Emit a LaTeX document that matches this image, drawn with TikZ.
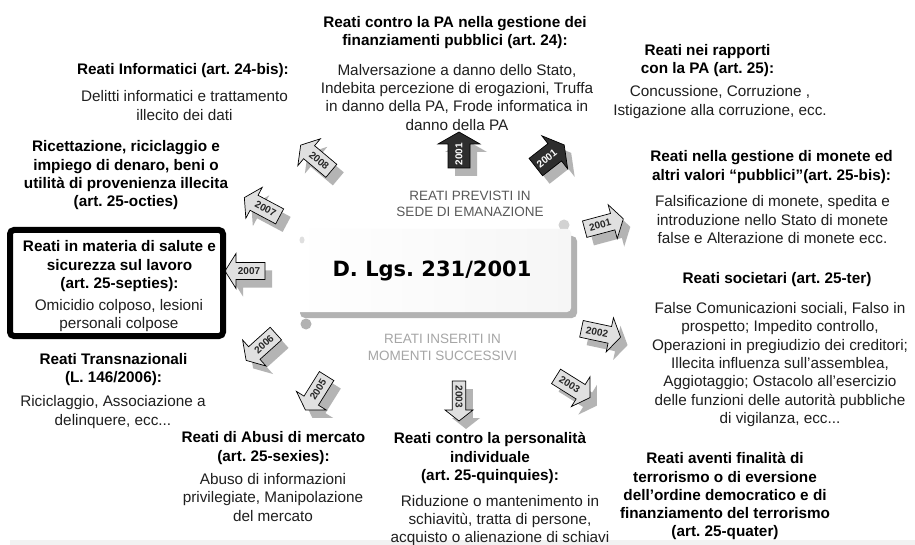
\documentclass[tikz,border=0pt]{standalone}
\usepackage{fontspec}
\setmainfont{Liberation Sans}
\newfontfamily\djv{DejaVu Sans}
\frenchspacing
\definecolor{shadowgray}{HTML}{B4B4B4}
\definecolor{lightfill}{HTML}{E0E0E0}
\definecolor{darkfill}{HTML}{2E2E2E}
\def\shapelight{(-20,-8.5) -- (9,-8.5) -- (9,-17.5) -- (20,0) -- (9,17.5) -- (9,8.5) -- (-20,8.5) -- cycle}
\def\shapedark{(-18,-11) -- (6,-11) -- (6,-21) -- (18,0) -- (6,21) -- (6,11) -- (-18,11) -- cycle}
\newcommand\blkarrow[8]{% name, x, y, angle, kind, label, text angle, width factor
  \fill[shadowgray,shift={(#2+7,#3+8)},rotate=#4,yscale=#8] \csname shape#5\endcsname;
  \filldraw[fill=#5fill,draw=black,line width=0.7pt,shift={(#2,#3)},rotate=#4,yscale=#8] \csname shape#5\endcsname;
  \path[shift={(#2,#3)},rotate=#4] (-4,0) node[#5lbl,rotate=#7] (#1) {#6};
}
\tikzset{
  ttl/.style={font=\fontsize{15.3}{18.3}\selectfont\bfseries,align=center,inner sep=0pt,anchor=north},
  bdy/.style={font=\fontsize{15.3}{18.3}\selectfont,align=center,inner sep=0pt,anchor=north,text=black!88},
  lightlbl/.style={font=\fontsize{10}{12}\selectfont\bfseries,text=black!85,inner sep=0pt},
  darklbl/.style={font=\fontsize{10}{12}\selectfont\bfseries,text=white,inner sep=0pt},
  phase/.style={font=\fontsize{13.5}{16.6}\selectfont,align=center,inner sep=0pt,anchor=north},
}
\begin{document}
\begin{tikzpicture}[x=1pt,y=-1pt]
\useasboundingbox (0,0) rectangle (915,545);
\fill[white] (0,0) rectangle (915,545);
\fill[gray!10] (10,540) rectangle (915,545);

% central scroll
\fill[gray!60,rounded corners=5pt] (300,236) rectangle (577,318);
\fill[gray!35] (564,225) circle (5.5);
\fill[gray!60] (306,324) circle (5.5);
\node[left color=white,right color=gray!7,minimum width=278pt,minimum height=83pt,rounded corners=4pt,inner sep=0pt,
      font=\djv\bfseries\fontsize{21}{25}\selectfont] (law) at (432,270.5) {D. Lgs. 231/2001};
\fill[gray!25] (302,240) ellipse (2.5 and 3.5);

\node[phase,text=black!65] (prev) at (470,190.5) {REATI PREVISTI IN\\SEDE DI EMANAZIONE};
\node[phase,text=black!35] (succ) at (442.5,334) {REATI INSERITI IN\\MOMENTI SUCCESSIVI};

% arrows
\blkarrow{a1}{459}{150}{90}{dark}{2001}{90}{1}
\blkarrow{a2}{550}{156}{38}{dark}{2001}{38}{1}
\blkarrow{a3}{604}{224}{15}{light}{2001}{15}{1}
\blkarrow{a4}{601}{333}{-12}{light}{2002}{-12}{1}
\blkarrow{a5}{573}{387}{-32}{light}{2003}{-32}{1}
\blkarrow{a6}{459}{401}{-90}{light}{2003}{-90}{0.8}
\blkarrow{a7}{316}{393}{238}{light}{2005}{58}{1}
\blkarrow{a8}{261}{347}{222}{light}{2006}{42}{1}
\blkarrow{a9}{245}{271}{180}{light}{2007}{0}{1}
\blkarrow{a10}{262}{207}{152}{light}{2007}{-28}{1}
\blkarrow{a11}{316}{158}{140}{light}{2008}{-40}{1}

% highlighted box
\draw[line width=6pt,rounded corners=4pt] (10,230) rectangle (223,336);

% text blocks
\node[ttl] (t24) at (455,16) {Reati contro la PA nella gestione dei\\finanziamenti pubblici (art. 24):};
\node[bdy] (b24) at (457,64) {Malversazione a danno dello Stato,\\Indebita percezione di erogazioni, Truffa\\in danno della PA, Frode informatica in\\danno della PA};

\node[ttl] (t24bis) at (183,63) {Reati Informatici (art. 24-bis):};
\node[bdy] (b24bis) at (184.5,90.7) {Delitti informatici e trattamento\\illecito dei dati};

\node[ttl] (t25oct) at (126,140.7) {Ricettazione, riciclaggio e\\impiego di denaro, beni o\\utilità di provenienza illecita\\(art. 25-octies)};

\node[ttl] (t25sept) at (119.5,240.7) {Reati in materia di salute e\\sicurezza sul lavoro\\(art. 25-septies):};
\node[bdy] (b25sept) at (119,299) {Omicidio colposo, lesioni\\personali colpose};

\node[ttl] (ttrans) at (113.5,353) {Reati Transnazionali\\(L. 146/2006):};
\node[bdy] (btrans) at (113,395.7) {Riciclaggio, Associazione a\\delinquere, ecc...};

\node[ttl] (t25sex) at (273.5,431.7) {Reati di Abusi di mercato\\(art. 25-sexies):};
\node[bdy] (b25sex) at (273,473.3) {Abuso di informazioni\\privilegiate, Manipolazione\\del mercato};

\node[ttl] (t25quin) at (490,432.3) {Reati contro la personalità\\individuale\\(art. 25-quinquies):};
\node[bdy] (b25quin) at (500,495) {Riduzione o mantenimento in\\schiavitù, tratta di persone,\\acquisto o alienazione di schiavi};

\node[ttl] (t25quat) at (725,452.3) {Reati aventi finalità di\\terrorismo o di eversione\\dell’ordine democratico e di\\finanziamento del terrorismo\\(art. 25-quater)};

\node[ttl] (t25ter) at (777,272.3) {Reati societari (art. 25-ter)};
\node[bdy] (b25ter) at (780,302.3) {False Comunicazioni sociali, Falso in\\prospetto; Impedito controllo,\\Operazioni in pregiudizio dei creditori;\\Illecita influenza sull’assemblea,\\Aggiotaggio; Ostacolo all’esercizio\\delle funzioni delle autorità pubbliche\\di vigilanza, ecc...};

\node[ttl] (t25bis) at (771.5,150.7) {Reati nella gestione di monete ed\\altri valori “pubblici”(art. 25-bis):};
\node[bdy] (b25bis) at (772.5,195.7) {Falsificazione di monete, spedita e\\introduzione nello Stato di monete\\false e Alterazione di monete ecc.};

\node[ttl] (t25) at (707.5,44) {Reati nei rapporti\\con la PA (art. 25):};
\node[bdy] (b25) at (720,85.7) {Concussione, Corruzione ,\\Istigazione alla corruzione, ecc.};
\end{tikzpicture}
\end{document}
